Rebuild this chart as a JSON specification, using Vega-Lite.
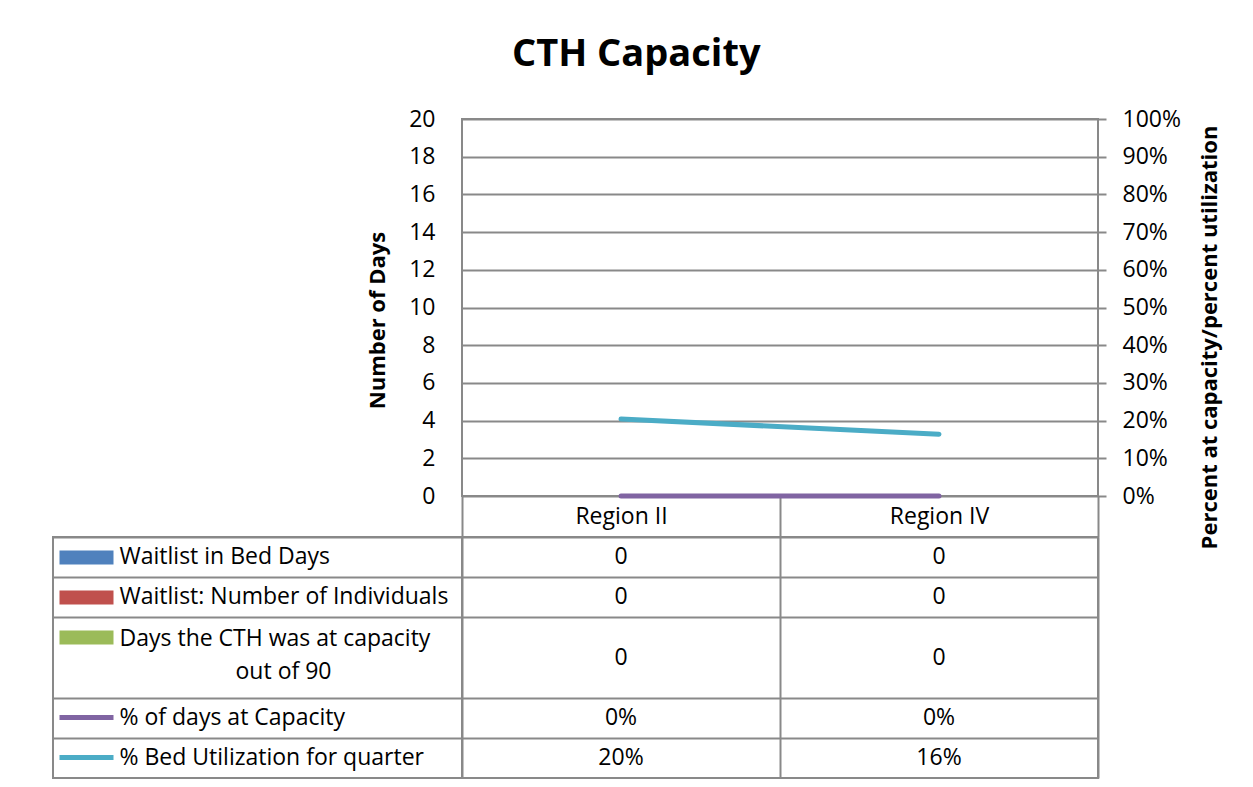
{
  "$schema": "https://vega.github.io/schema/vega-lite/v6.json",
  "padding": {"left": 51, "top": 36, "right": 5, "bottom": 5},
  "background": "white",
  "title": {"text": "CTH Capacity", "font": "Open Sans", "fontSize": 38, "fontWeight": "bold", "color": "black", "anchor": "middle", "offset": 33},
  "config": {
    "font": "Open Sans",
    "view": {"stroke": "#898989", "strokeWidth": 2},
    "axis": {"labelFont": "Open Sans", "labelFontSize": 23, "labelColor": "black", "titleFont": "Open Sans", "titleFontSize": 22, "titleColor": "black", "titleFontWeight": "bold", "gridColor": "#898989", "gridWidth": 2, "tickColor": "#898989", "tickWidth": 2, "domain": false}
  },
  "datasets": {
    "cth": [
      {"region": "Region II", "series": "Waitlist in Bed Days", "value": 0},
      {"region": "Region IV", "series": "Waitlist in Bed Days", "value": 0},
      {"region": "Region II", "series": "Waitlist: Number of Individuals", "value": 0},
      {"region": "Region IV", "series": "Waitlist: Number of Individuals", "value": 0},
      {"region": "Region II", "series": "Days the CTH was at capacity out of 90", "value": 0},
      {"region": "Region IV", "series": "Days the CTH was at capacity out of 90", "value": 0},
      {"region": "Region II", "series": "% of days at Capacity", "value": 0},
      {"region": "Region IV", "series": "% of days at Capacity", "value": 0},
      {"region": "Region II", "series": "% Bed Utilization for quarter", "value": 0.204},
      {"region": "Region IV", "series": "% Bed Utilization for quarter", "value": 0.164}
    ]
  },
  "columns": 2,
  "spacing": {"row": 41, "column": 0},
  "bounds": "flush",
  "concat": [
    {
      "width": 409, "height": 377,
      "view": {"stroke": null},
      "data": {"values": []},
      "mark": "point"
    },
    {
      "width": 636, "height": 377,
      "data": {"name": "cth"},
      "encoding": {
        "x": {"field": "region", "type": "nominal", "scale": {"paddingInner": 0, "paddingOuter": 0},
              "axis": {"title": null, "orient": "bottom", "tickBand": "extent", "ticks": true, "tickSize": 41, "labelPadding": -21, "labelBaseline": "middle", "labelAngle": 0, "grid": false}}
      },
      "layer": [
        {
          "transform": [{"filter": {"field": "series", "oneOf": ["Waitlist in Bed Days", "Waitlist: Number of Individuals", "Days the CTH was at capacity out of 90"]}}],
          "mark": {"type": "bar"},
          "encoding": {
            "xOffset": {"field": "series", "type": "nominal", "sort": ["Waitlist in Bed Days", "Waitlist: Number of Individuals", "Days the CTH was at capacity out of 90"]},
            "y": {"field": "value", "type": "quantitative", "scale": {"domain": [0, 20]},
                  "axis": {"orient": "left", "title": "Number of Days", "values": [0, 2, 4, 6, 8, 10, 12, 14, 16, 18, 20], "grid": true, "ticks": false, "labelPadding": 27, "titlePadding": 19, "titleY": 201}},
            "color": {"field": "series", "type": "nominal", "legend": null,
                      "scale": {"domain": ["Waitlist in Bed Days", "Waitlist: Number of Individuals", "Days the CTH was at capacity out of 90", "% of days at Capacity", "% Bed Utilization for quarter"],
                                "range": ["#4f81bd", "#c0504d", "#9bbb59", "#8064a2", "#4bacc6"]}}
          }
        },
        {
          "transform": [{"filter": {"field": "series", "oneOf": ["% of days at Capacity", "% Bed Utilization for quarter"]}}],
          "mark": {"type": "line", "strokeWidth": 5, "strokeCap": "round"},
          "encoding": {
            "y": {"field": "value", "type": "quantitative", "scale": {"domain": [0, 1]},
                  "axis": {"orient": "right", "title": "Percent at capacity/percent utilization", "format": ".0%", "values": [0, 0.1, 0.2, 0.3, 0.4, 0.5, 0.6, 0.7, 0.8, 0.9, 1], "grid": false, "ticks": true, "tickSize": 8, "labelPadding": 16, "titleAngle": 270, "titleBaseline": "top", "titlePadding": 19, "titleY": 218}},
            "color": {"field": "series", "type": "nominal", "legend": null}
          }
        }
      ],
      "resolve": {"scale": {"y": "independent"}}
    },
    {
      "width": 409, "height": 241,
      "data": {"name": "cth"},
      "transform": [{"filter": {"field": "region", "equal": "Region II"}}],
      "mark": {"type": "rect", "opacity": 0},
      "encoding": {
        "y": {"field": "series", "type": "nominal",
              "scale": {"domain": ["Waitlist in Bed Days", "Waitlist: Number of Individuals", "Days the CTH was at capacity out of 90", "out of 90", "% of days at Capacity", "% Bed Utilization for quarter"], "paddingInner": 0, "paddingOuter": 0},
              "axis": {
                "orient": "left", "offset": -60, "domain": false, "grid": false, "title": null, "zindex": 1,
                "ticks": true, "tickSize": 54, "tickCap": "butt",
                "tickColor": {"condition": [
                  {"test": "datum.value === 'Waitlist in Bed Days'", "value": "#4f81bd"},
                  {"test": "datum.value === 'Waitlist: Number of Individuals'", "value": "#c0504d"},
                  {"test": "datum.value === 'Days the CTH was at capacity out of 90'", "value": "#9bbb59"},
                  {"test": "datum.value === '% of days at Capacity'", "value": "#8064a2"},
                  {"test": "datum.value === '% Bed Utilization for quarter'", "value": "#4bacc6"}
                ], "value": "transparent"},
                "tickWidth": {"condition": {"test": "datum.value === '% of days at Capacity' || datum.value === '% Bed Utilization for quarter'", "value": 5}, "value": 14},
                "labelAlign": {"condition": {"test": "datum.value === 'out of 90'", "value": "center"}, "value": "left"},
                "labelPadding": {"condition": {"test": "datum.value === 'out of 90'", "value": -224}, "value": -60},
                "labelOffset": {"condition": [
                  {"test": "datum.value === 'out of 90'", "value": -6},
                  {"test": "datum.value === 'Days the CTH was at capacity out of 90'", "value": 2}
                ], "value": 0},
                "labelExpr": "datum.value === 'Days the CTH was at capacity out of 90' ? 'Days the CTH was at capacity' : datum.label",
                "labelBaseline": "middle", "labelLimit": 420
              }}
      }
    },
    {
      "width": 636, "height": 241,
      "data": {"name": "cth"},
      "encoding": {
        "x": {"field": "region", "type": "nominal", "scale": {"paddingInner": 0, "paddingOuter": 0},
              "axis": {"orient": "top", "title": null, "labels": false, "ticks": false, "grid": true, "tickBand": "extent"}}
      },
      "layer": [
        {
          "transform": [{"filter": {"field": "series", "oneOf": ["Waitlist in Bed Days", "Waitlist: Number of Individuals"]}}],
          "mark": {"type": "text", "fontSize": 23, "color": "black", "font": "Open Sans"},
          "encoding": {
            "y": {"field": "series", "type": "nominal",
                  "scale": {"domain": ["Waitlist in Bed Days", "Waitlist: Number of Individuals", "Days the CTH was at capacity out of 90", "out of 90", "% of days at Capacity", "% Bed Utilization for quarter"], "paddingInner": 0, "paddingOuter": 0},
                  "axis": {"title": null, "labels": false, "ticks": true, "tickSize": 409, "tickBand": "extent", "grid": true,
                           "values": ["Waitlist in Bed Days", "Waitlist: Number of Individuals", "out of 90", "% of days at Capacity"]}},
            "text": {"field": "value", "type": "quantitative", "format": "d"}
          }
        },
        {
          "transform": [{"filter": {"field": "series", "equal": "Days the CTH was at capacity out of 90"}}],
          "mark": {"type": "text", "fontSize": 23, "color": "black", "font": "Open Sans"},
          "encoding": {
            "y": {"field": "series", "type": "nominal", "bandPosition": 1},
            "text": {"field": "value", "type": "quantitative", "format": "d"}
          }
        },
        {
          "transform": [{"filter": {"field": "series", "oneOf": ["% of days at Capacity", "% Bed Utilization for quarter"]}}],
          "mark": {"type": "text", "fontSize": 23, "color": "black", "font": "Open Sans"},
          "encoding": {
            "y": {"field": "series", "type": "nominal"},
            "text": {"field": "value", "type": "quantitative", "format": ".0%"}
          }
        }
      ]
    }
  ]
}
